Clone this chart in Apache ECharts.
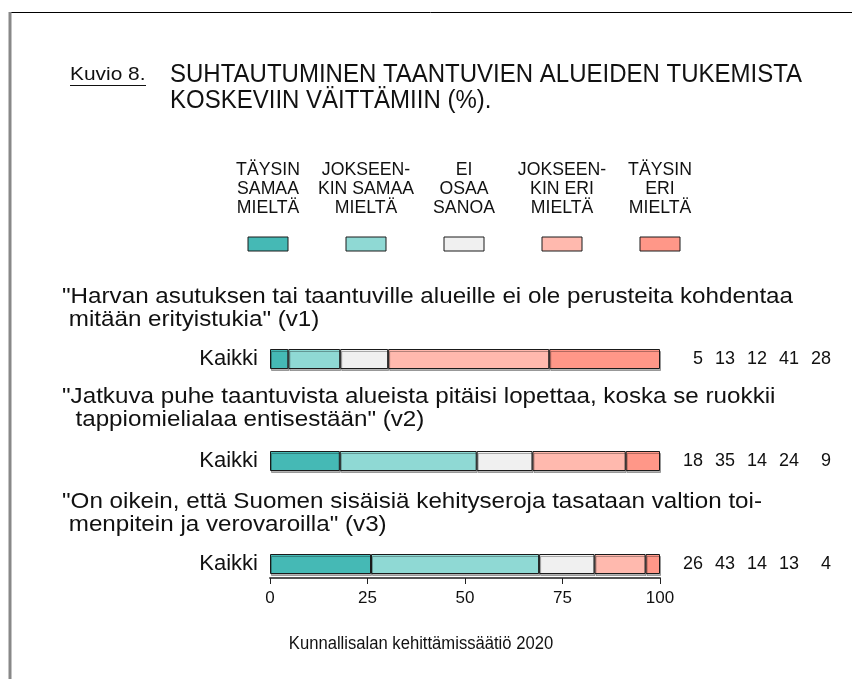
<!DOCTYPE html>
<html>
<head>
<meta charset="utf-8">
<script src="https://cdn.jsdelivr.net/npm/echarts@6/dist/echarts.min.js"></script>
<style>
html, body { margin: 0; padding: 0; background: #fff; }
#main { width: 852px; height: 679px; }
</style>
</head>
<body>
<div id="main"></div>
<script>
// kysymykset
var statements = [
  '"Harvan asutuksen tai taantuville alueille ei ole perusteita kohdentaa\n mitään erityistukia" (v1)',
  '"Jatkuva puhe taantuvista alueista pitäisi lopettaa, koska se ruokkii\n  tappiomielialaa entisestään" (v2)',
  '"On oikein, että Suomen sisäisiä kehityseroja tasataan valtion toi-\n menpitein ja verovaroilla" (v3)'
];
var groupLabel = 'Kaikki';
var answers = ['TÄYSIN\nSAMAA\nMIELTÄ', 'JOKSEEN-\nKIN SAMAA\nMIELTÄ', 'EI\nOSAA\nSANOA', 'JOKSEEN-\nKIN ERI\nMIELTÄ', 'TÄYSIN\nERI\nMIELTÄ'];
var colors = ['#45b9b5', '#8fd9d4', '#f0f0f0', '#ffb9ae', '#ff9788'];
// osuudet (%) vastausvaihtoehdoittain
var v1 = [4.7, 13.3, 12.3, 41.3, 28.4];
var v2 = [17.9, 35.1, 14.3, 23.9, 8.8];
var v3 = [25.9, 43.1, 14.2, 13.1, 3.7];
var xTicks = [0, 25, 50, 75, 100];

var rows = [v1, v2, v3];
var gridTops = [349, 451, 554];
var font = "'Liberation Sans', Arial, sans-serif";

var chart = echarts.init(document.getElementById('main'), null, { renderer: 'canvas' });

var grid = [], xAxis = [], yAxis = [], series = [];
rows.forEach(function (vals, i) {
  var last = i === rows.length - 1;
  grid.push({ left: 270, width: 390, top: gridTops[i], height: 20 });
  xAxis.push({
    gridIndex: i, type: 'value', min: xTicks[0], max: xTicks[xTicks.length - 1], interval: 25,
    show: last, offset: 4,
    axisLine: { show: last, lineStyle: { color: '#555', width: 2 } },
    axisTick: { show: last, length: 6, lineStyle: { color: '#222', width: 1 } },
    axisLabel: { show: last, fontFamily: font, fontSize: 17, color: '#111', margin: 12 },
    splitLine: { show: false }
  });
  yAxis.push({
    gridIndex: i, type: 'category', data: [groupLabel],
    axisLine: { show: false }, axisTick: { show: false },
    axisLabel: { fontFamily: font, fontSize: 22, color: '#111', margin: 12 }
  });
  yAxis.push({
    gridIndex: i, type: 'category', data: [groupLabel], position: 'right',
    axisLine: { show: false }, axisTick: { show: false },
    axisLabel: {
      margin: 11,
      formatter: function () {
        return vals.map(function (v) { return '{n|' + Math.round(v) + '}'; }).join('');
      },
      rich: { n: { width: 32, align: 'right', fontFamily: font, fontSize: 18, color: '#111' } }
    }
  });
  vals.forEach(function (v, j) {
    series.push({
      type: 'bar', name: answers[j], stack: 'r' + i,
      xAxisIndex: i, yAxisIndex: 2 * i,
      barWidth: 20, data: [v],
      itemStyle: {
        color: colors[j], borderColor: '#1a1a1a', borderWidth: 1,
        shadowColor: 'rgba(0,0,0,0.3)', shadowOffsetX: 1, shadowOffsetY: 2, shadowBlur: 0
      },
      emphasis: { disabled: true },
      animation: false
    });
  });
});

// tekstit on venytetty vaakasuunnassa kuten alkuperäisessä kuvassa
var graphic = [
  // kehys
  { type: 'line', shape: { x1: 9, y1: 12.5, x2: 852, y2: 12.5 }, style: { stroke: '#000', lineWidth: 1 } },
  { type: 'line', shape: { x1: 10, y1: 12, x2: 10, y2: 679 }, style: { stroke: '#888', lineWidth: 3 } },
  // otsikko
  { type: 'text', x: 70, y: 75, scaleX: 1.1, style: {
      text: 'Kuvio 8.', font: '19px ' + font, verticalAlign: 'middle', fill: '#111' } },
  { type: 'line', shape: { x1: 70, y1: 85.5, x2: 146, y2: 85.5 }, style: { stroke: '#111', lineWidth: 1 } },
  { type: 'text', x: 170, y: 88, scaleX: 0.96, style: {
      text: 'SUHTAUTUMINEN TAANTUVIEN ALUEIDEN TUKEMISTA\nKOSKEVIIN VÄITTÄMIIN (%).',
      font: '25px ' + font, lineHeight: 26, verticalAlign: 'middle', fill: '#111' } },
  // lähde
  { type: 'text', x: 421, y: 644, scaleX: 0.95, style: {
      text: 'Kunnallisalan kehittämissäätiö 2020', font: '17.5px ' + font,
      align: 'center', verticalAlign: 'middle', fill: '#111' } }
];
// selite
answers.forEach(function (a, j) {
  var cx = 268 + 98 * j;
  graphic.push({ type: 'text', x: cx, y: 189, scaleX: 0.95, style: {
    text: a, font: '18.6px ' + font, lineHeight: 19, align: 'center', verticalAlign: 'middle', fill: '#111' } });
  graphic.push({ type: 'rect', shape: { x: cx - 20, y: 237, width: 40, height: 14 },
    style: { fill: colors[j], stroke: '#1a1a1a', lineWidth: 1 } });
});
// väittämät
var stmtY = [308.5, 408.5, 513.5];
statements.forEach(function (s, i) {
  graphic.push({ type: 'text', x: 62, y: stmtY[i], scaleX: 1.1, style: {
    text: s, font: '22px ' + font, lineHeight: 23, verticalAlign: 'middle', fill: '#111' } });
});

chart.setOption({
  animation: false,
  grid: grid,
  xAxis: xAxis,
  yAxis: yAxis,
  series: series,
  graphic: graphic
});
</script>
</body>
</html>
